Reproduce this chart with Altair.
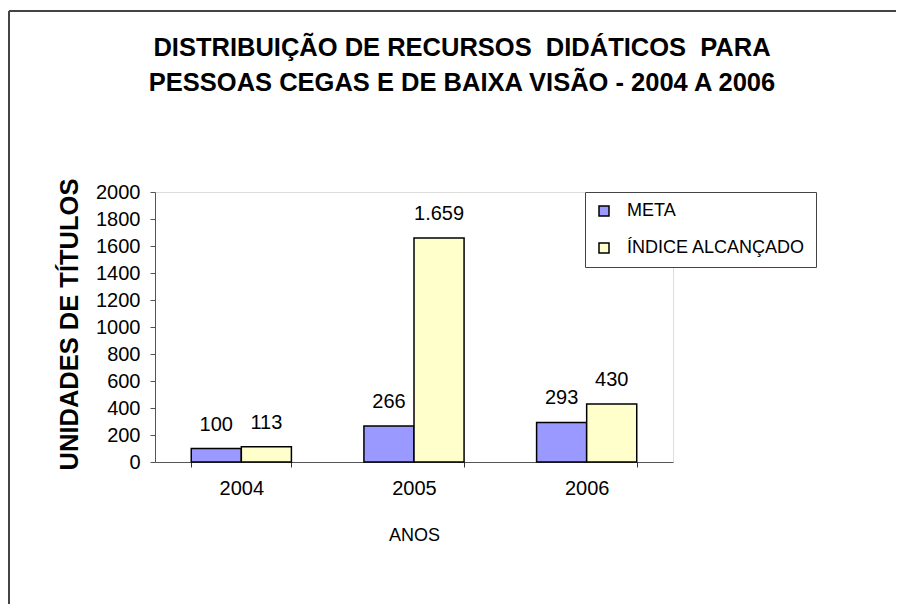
import altair as alt
import pandas as pd

anos = ["2004", "2005", "2006"]
meta = [100, 266, 293]
indice = [113, 1659, 430]
series = ["META", "ÍNDICE ALCANÇADO"]
cores = ["#9999FF", "#FFFFCC"]
y_ticks = [0, 200, 400, 600, 800, 1000, 1200, 1400, 1600, 1800, 2000]
titulo = ["DISTRIBUIÇÃO DE RECURSOS \u00a0DIDÁTICOS \u00a0PARA",
          "PESSOAS CEGAS E DE BAIXA VISÃO - 2004 A 2006"]


def fmt(v):
    return f"{v:,}".replace(",", ".")


rows = []
for i, a in enumerate(anos):
    rows.append({"ano": a, "serie": series[0], "valor": meta[i], "rotulo": fmt(meta[i])})
    rows.append({"ano": a, "serie": series[1], "valor": indice[i], "rotulo": fmt(indice[i])})
df = pd.DataFrame(rows)

FONT = "Liberation Sans"
W, H = 518, 270
PAD_L, PAD_T, PAD_R, PAD_B = 147, 184, 223, 142

x = alt.X(
    "ano:N", sort=anos,
    scale=alt.Scale(paddingInner=0.42, paddingOuter=0.21),
    axis=alt.Axis(
        title="ANOS", labelAngle=0, tickBand="extent", tickSize=5,
        labelFontSize=20, labelPadding=11, titleFontSize=18, titleFontWeight="normal",
        titlePadding=28, domainColor="#555", tickColor="#333", labelColor="black",
        titleColor="black", labelFont=FONT, titleFont=FONT,
    ),
)
xo = alt.XOffset("serie:N", sort=series, scale=alt.Scale(paddingInner=0, paddingOuter=0))
y = alt.Y(
    "valor:Q",
    scale=alt.Scale(domain=[0, 2000], nice=False),
    axis=alt.Axis(
        values=y_ticks, format="d", title="UNIDADES DE TÍTULOS", grid=False, tickSize=5,
        labelFontSize=20, labelPadding=10, domainColor="#555", tickColor="#555",
        labelColor="black", titleColor="black", titleFontSize=25.5, titleFontWeight="bold",
        titleAngle=270, titleAlign="center", titleBaseline="middle",
        titleX=-86, titleY=132, labelFont=FONT, titleFont=FONT,
    ),
)

bars = alt.Chart(df).mark_bar(stroke="black", strokeWidth=1.5).encode(
    x=x, xOffset=xo, y=y,
    color=alt.Color(
        "serie:N", sort=series,
        scale=alt.Scale(domain=series, range=cores),
        legend=alt.Legend(
            title=None, orient="none", legendX=430, legendY=0,
            strokeColor="#444", fillColor="white", padding=10, cornerRadius=0,
            labelFontSize=18, labelFont=FONT, labelColor="black", labelOffset=14,
            symbolType="square", symbolSize=100, symbolStrokeColor="black",
            symbolStrokeWidth=1.5, rowPadding=19, labelLimit=400,
        ),
    ),
)

labels = alt.Chart(df).mark_text(
    dy=-24, baseline="middle", fontSize=20, font=FONT, color="black"
).encode(x=x, xOffset=xo, y=y, text="rotulo:N")

frame_data = alt.Data(values=[{"k": 1}])
left_line = alt.Chart(frame_data).mark_rule(color="#444", strokeWidth=2).encode(
    x=alt.value(-146), y=alt.value(-181), y2=alt.value(H + PAD_B + 5)
)
top_line = alt.Chart(frame_data).mark_rule(color="#444", strokeWidth=2).encode(
    x=alt.value(-146), x2=alt.value(W + PAD_R + 5), y=alt.value(-181)
)
title_text = alt.Chart(frame_data).mark_text(
    fontSize=25.5, fontWeight="bold", font=FONT, align="center",
    baseline="alphabetic", lineHeight=35, color="black",
).encode(x=alt.value(307), y=alt.value(-136), text=alt.value(titulo))

chart = alt.layer(left_line, top_line, title_text, bars, labels).properties(
    width=W, height=H,
    autosize=alt.AutoSizeParams(type="none"),
    padding={"left": PAD_L, "top": PAD_T, "right": PAD_R, "bottom": PAD_B},
).configure_view(stroke=None).configure(background="white")

chart.save("out.html", embed_options={"renderer": "svg", "actions": False})
